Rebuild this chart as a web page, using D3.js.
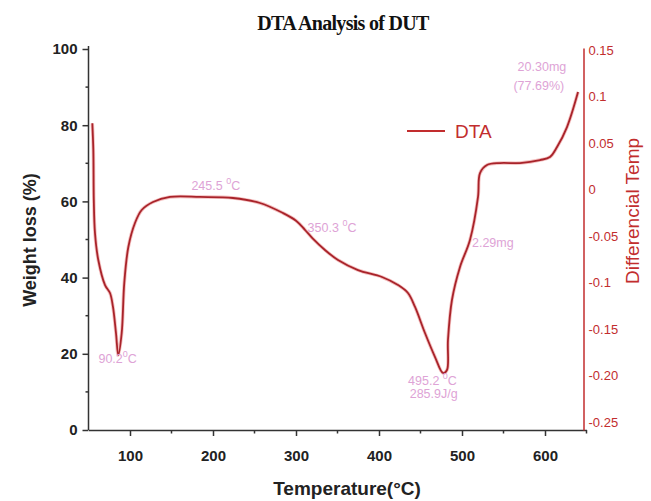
<!DOCTYPE html>
<html><head><meta charset="utf-8">
<script src="https://cdn.jsdelivr.net/npm/d3@7"></script>
<style>body{margin:0;background:#fff}svg{display:block}</style>
</head><body>
<svg id="c" width="651" height="501"></svg>
<script>
// ---- data ----
const temperature = [54.6,55.8,56.4,57.8,61.8,69.9,75.9,79.5,83.1,85.9,90.0,93.1,98.0,106.0,114.1,127.7,148.2,184.3,224.1,256.6,284.3,300.0,310.5,320.0,334.9,350.6,374.7,403.6,422.9,434.9,443.4,455.4,467.5,477.1,481.9,483.1,487.9,497.6,509.6,519.3,521.7,530.1,545.8,569.9,594.0,606.0,614.5,626.5,639.8];
const dta = [0.0712,0.0425,-0.0113,-0.0468,-0.0758,-0.1027,-0.1113,-0.1263,-0.1543,-0.178,-0.1543,-0.1005,-0.0618,-0.036,-0.022,-0.0134,-0.008,-0.008,-0.0091,-0.0145,-0.0253,-0.0335,-0.043,-0.0525,-0.065,-0.0758,-0.0866,-0.0941,-0.1027,-0.1113,-0.1263,-0.1543,-0.1801,-0.1973,-0.1941,-0.1618,-0.1188,-0.0833,-0.0543,-0.008,0.0177,0.0263,0.0285,0.0285,0.0317,0.035,0.0457,0.0672,0.1048];
const xTicks = [100,200,300,400,500,600];
const xMinor = [150,250,350,450,550,650];
const leftTicks = [0,20,40,60,80,100];
const leftMinor = [10,30,50,70,90];
const rightTicks = [0.15,0.1,0.05,0,-0.05,-0.1,-0.15,-0.2,-0.25];
const rightTickLabels = ["0.15","0.1","0.05","0","-0.05","-0.1","-0.15","-0.20","-0.25"];
const annoText = [
  {label:["245.5 ","0","C"], T:174, v:-0.0005},
  {label:["350.3 ","0","C"], T:314, v:-0.046},
  {label:["90.2","0","C"], T:62, v:-0.1866},
  {label:["495.2 ","0","C"], T:435, v:-0.2105},
  {label:["285.9J/g"], T:437, v:-0.2245},
  {label:["2.29mg"], T:512, v:-0.0621},
  {label:["20.30mg"], T:567, v:0.1275},
  {label:["(77.69%)"], T:562, v:0.1065}
];

// ---- layout ----
const svg = d3.select("#c");
const x = d3.scaleLinear().domain([50,650]).range([88.5,586.5]);
const yL = d3.scaleLinear().domain([0,100]).range([430,49]);
const yR = d3.scaleLinear().domain([-0.2586,0.1522]).range([430,48]);
const axisCol = "#333";
const red = "#c22d2e";
const pink = "#dea3d6";

// title
svg.append("text").attr("x",343).attr("y",30).attr("text-anchor","middle")
  .attr("font-family","'Liberation Serif','Times New Roman',serif").attr("font-weight","bold")
  .attr("font-size",20).attr("letter-spacing","-0.7").attr("fill","#111").text("DTA Analysis of DUT");

// left axis
const gL = svg.append("g").attr("transform","translate(88.5,0)")
  .call(d3.axisLeft(yL).tickValues(leftTicks).tickSize(6).tickPadding(5).tickSizeOuter(0));
gL.select(".domain").attr("stroke",axisCol).attr("stroke-width",1.5).attr("d","M0,46V430");
gL.selectAll(".tick line").attr("stroke",axisCol).attr("stroke-width",1.5);
gL.selectAll(".tick text").attr("font-family","'Liberation Sans',Arial,sans-serif").attr("font-weight","bold").attr("font-size",15).attr("fill","#222");
svg.append("g").selectAll("line").data(leftMinor).join("line")
  .attr("x1",85.5).attr("x2",88.5).attr("y1",d=>yL(d)).attr("y2",d=>yL(d)).attr("stroke",axisCol).attr("stroke-width",1.5);

// bottom axis
const gB = svg.append("g").attr("transform","translate(0,430)")
  .call(d3.axisBottom(x).tickValues(xTicks).tickSize(6).tickPadding(14).tickSizeOuter(0));
gB.select(".domain").attr("stroke",axisCol).attr("stroke-width",1.5);
gB.selectAll(".tick line").attr("stroke",axisCol).attr("stroke-width",1.5);
gB.selectAll(".tick text").attr("font-family","'Liberation Sans',Arial,sans-serif").attr("font-weight","bold").attr("font-size",15).attr("fill","#222");
svg.append("g").selectAll("line").data(xMinor).join("line")
  .attr("x1",d=>x(d)).attr("x2",d=>x(d)).attr("y1",430).attr("y2",433.5).attr("stroke",axisCol).attr("stroke-width",1.5);

// right axis
const rx = 583.5;
const gR = svg.append("g").attr("transform",`translate(${rx},0)`)
  .call(d3.axisRight(yR).tickValues(rightTicks).tickSize(0).tickPadding(5).tickFormat((d,i)=>rightTickLabels[i]));
gR.select(".domain").attr("stroke",red).attr("stroke-width",1.5);
gR.selectAll(".tick text").attr("font-family","'Liberation Sans',Arial,sans-serif").attr("font-size",13).attr("fill",red);

// axis titles
svg.append("text").attr("transform","translate(36,240) rotate(-90)").attr("text-anchor","middle")
  .attr("font-family","'Liberation Sans',Arial,sans-serif").attr("font-weight","bold").attr("font-size",18).attr("fill","#222")
  .text("Weight loss (%)");
svg.append("text").attr("x",347).attr("y",495).attr("text-anchor","middle")
  .attr("font-family","'Liberation Sans',Arial,sans-serif").attr("font-weight","bold").attr("font-size",19).attr("fill","#222")
  .text("Temperature(°C)");
svg.append("text").attr("transform","translate(639,211) rotate(-90)").attr("text-anchor","middle")
  .attr("font-family","'Liberation Sans',Arial,sans-serif").attr("font-size",19).attr("fill",red)
  .text("Differencial Temp");

// curve
const pts = temperature.map((t,i)=>[t,dta[i]]);
const line = d3.line().x(d=>x(d[0])).y(d=>yR(d[1])).curve(d3.curveCatmullRom.alpha(0.5));
svg.append("path").attr("d",line(pts)).attr("fill","none").attr("stroke","#f4c0c0").attr("stroke-width",3.5);
svg.append("path").attr("d",line(pts)).attr("fill","none").attr("stroke","#a8232a").attr("stroke-width",1.8);

// legend
svg.append("line").attr("x1",407).attr("x2",445).attr("y1",131).attr("y2",131).attr("stroke",red).attr("stroke-width",2);
svg.append("text").attr("x",455).attr("y",138).attr("font-family","'Liberation Sans',Arial,sans-serif").attr("font-size",19).attr("fill",red).text("DTA");

// annotations
annoText.forEach(a=>{
  const t = svg.append("text").attr("x",x(a.T)).attr("y",yR(a.v))
    .attr("font-family","'Liberation Sans',Arial,sans-serif").attr("font-size",12.5).attr("fill",pink);
  t.append("tspan").text(a.label[0]);
  if(a.label.length>1){
    t.append("tspan").attr("dy",-6).attr("font-size",9).text(a.label[1]);
    t.append("tspan").attr("dy",6).text(a.label[2]);
  }
});
</script>
</body></html>
